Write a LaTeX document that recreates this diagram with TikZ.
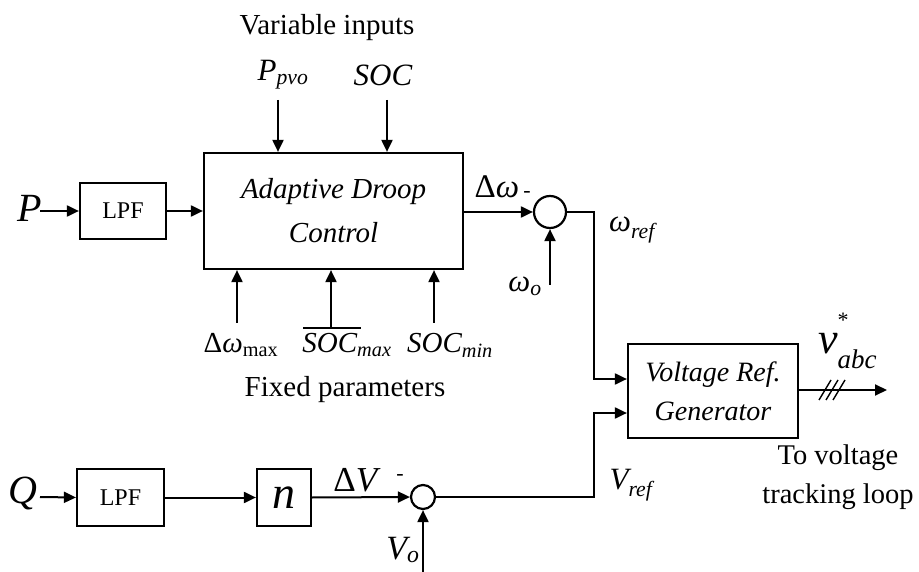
\documentclass[tikz,border=0pt]{standalone}
\usepackage{fontspec}
\setmainfont{Liberation Serif}
\usetikzlibrary{arrows.meta}
\newcommand{\fsz}[1]{\fontsize{#1}{#1}\selectfont}
\begin{document}
\begin{tikzpicture}[x=1pt,y=-1pt,
  line width=2pt,
  arr/.style={-{Triangle[length=12pt,width=11pt]}},
  blk/.style={draw, line width=2.2pt, inner sep=0pt, align=center},
  sumc/.style={draw, circle, line width=2.2pt, inner sep=0pt},
  lbl/.style={inner sep=0pt, align=center}]
\useasboundingbox (0,0) rectangle (919,572);

% ---- blocks
\node[blk, minimum width=259pt, minimum height=116pt, font=\fontsize{29}{44}\selectfont\itshape] (adc) at (333.5,211) {Adaptive Droop\\Control};
\node[blk, minimum width=86pt, minimum height=56pt, font=\fsz{24}] (lpf1) at (123,211) {LPF};
\node[blk, minimum width=87pt, minimum height=57pt, font=\fsz{24}] (lpf2) at (120.5,497.5) {LPF};
\node[blk, minimum width=54pt, minimum height=57pt, font=\fsz{46}\itshape] (nb) at (284,497.5) {n};
\node[blk, minimum width=170pt, minimum height=94pt, font=\fontsize{28}{39}\selectfont\itshape] (vrg) at (713,391) {Voltage Ref.\\Generator};
\node[sumc, minimum size=32pt] (s1) at (550,212) {};
\node[sumc, minimum size=24pt] (s2) at (423,497) {};

% ---- labels
\node[lbl, font=\fsz{29}] (var) at (327,28) {Variable inputs};
\node[lbl, font=\fsz{31}\itshape] (ppvo) at (283,75) {P\textsubscript{pvo}};
\node[lbl, font=\fsz{31}\itshape] (soc) at (383,75) {SOC};
\node[lbl, font=\fsz{40}\itshape] (pl) at (30,208) {P};
\node[lbl, font=\fsz{40}\itshape] (ql) at (23,493) {Q};
\node[lbl, font=\fsz{33}] (dw) at (497,187) {Δ\textit{ω}};
\node[lbl, font=\fsz{22}] (m1) at (527,194) {-};
\node[lbl, font=\fsz{31}\itshape] (wref) at (632,230) {ω\textsubscript{ref}};
\node[lbl, font=\fsz{31}\itshape] (wo) at (525,286) {ω\textsubscript{o}};
\node[lbl, font=\fsz{29}] (dwmax) at (241,345) {Δ\textit{ω}\textsubscript{max}};
\node[lbl, font=\fsz{29}\itshape] (socmax) at (347,345) {SOC\textsubscript{max}};
\node[lbl, font=\fsz{29}\itshape] (socmin) at (450,345) {SOC\textsubscript{min}};
\node[lbl, font=\fsz{29}] (fix) at (345,390) {Fixed parameters};
\node[lbl, font=\fsz{35}] (dv) at (357,480) {Δ\textit{V}};
\node[lbl, font=\fsz{22}] (m2) at (400,477) {-};
\node[lbl, font=\fsz{31}\itshape] (vref) at (631,485) {V\textsubscript{ref}};
\node[lbl, anchor=base, font=\fsz{34}\itshape] (vo) at (403,559) {V\textsubscript{o}};
\node[lbl, anchor=base west, font=\fsz{44}\itshape] (vabc) at (817,353) {v\rlap{\raisebox{26pt}{\fsz{22}\upshape *}}\raisebox{-15pt}{\fsz{27}abc}};
\node[lbl, font=\fontsize{28.5}{39}\selectfont] (tvl) at (838,477) {To voltage\\tracking loop};

% ---- connectors
\coordinate (pin) at (40,211);
\coordinate (qin) at (40,497);
\draw[arr] (pin) -- (lpf1.west);
\draw[arr] (lpf1.east) -- (adc.west |- lpf1.east);
\draw[arr] (qin) -- (lpf2.west);
\draw[arr] (lpf2.east) -- (nb.west);
\draw[arr] (nb.east) -- (s2.west);

\coordinate (tp1) at (278,100);
\coordinate (tp2) at (387,100);
\draw[arr] (tp1) -- (tp1 |- adc.north);
\draw[arr] (tp2) -- (tp2 |- adc.north);

\coordinate (bp1) at (237,323);
\coordinate (bp2) at (331,328);
\coordinate (bp3) at (434,323);
\coordinate (ol1) at (303,328);
\coordinate (ol2) at (361,328);
\draw[arr] (bp1) -- (bp1 |- adc.south);
\draw[arr] (bp2) -- (bp2 |- adc.south);
\draw[arr] (bp3) -- (bp3 |- adc.south);
\draw (ol1) -- (ol2);

\draw[arr] (adc.east |- s1.west) -- (s1.west);
\coordinate (wo1) at (550,285);
\draw[arr] (wo1) -- (s1.south);
\coordinate (j1) at (594,212);
\coordinate (in1) at (628,379);
\coordinate (in2) at (628,413);
\draw[arr] (s1.east) -- (j1) -- (j1 |- in1) -- (vrg.west |- in1);
\draw[arr] (s2.east) -- (j1 |- s2.east) -- (j1 |- in2) -- (vrg.west |- in2);
\coordinate (vo1) at (423,575);
\draw[arr] (vo1) -- (s2.south);

\coordinate (out) at (887,390);
\draw[arr] (vrg.east |- out) -- (out);
\foreach \c in {825,832,839} {
  \draw[line width=1.4pt] (\c-6,400) -- (\c+6,380);
}
\end{tikzpicture}
\end{document}
